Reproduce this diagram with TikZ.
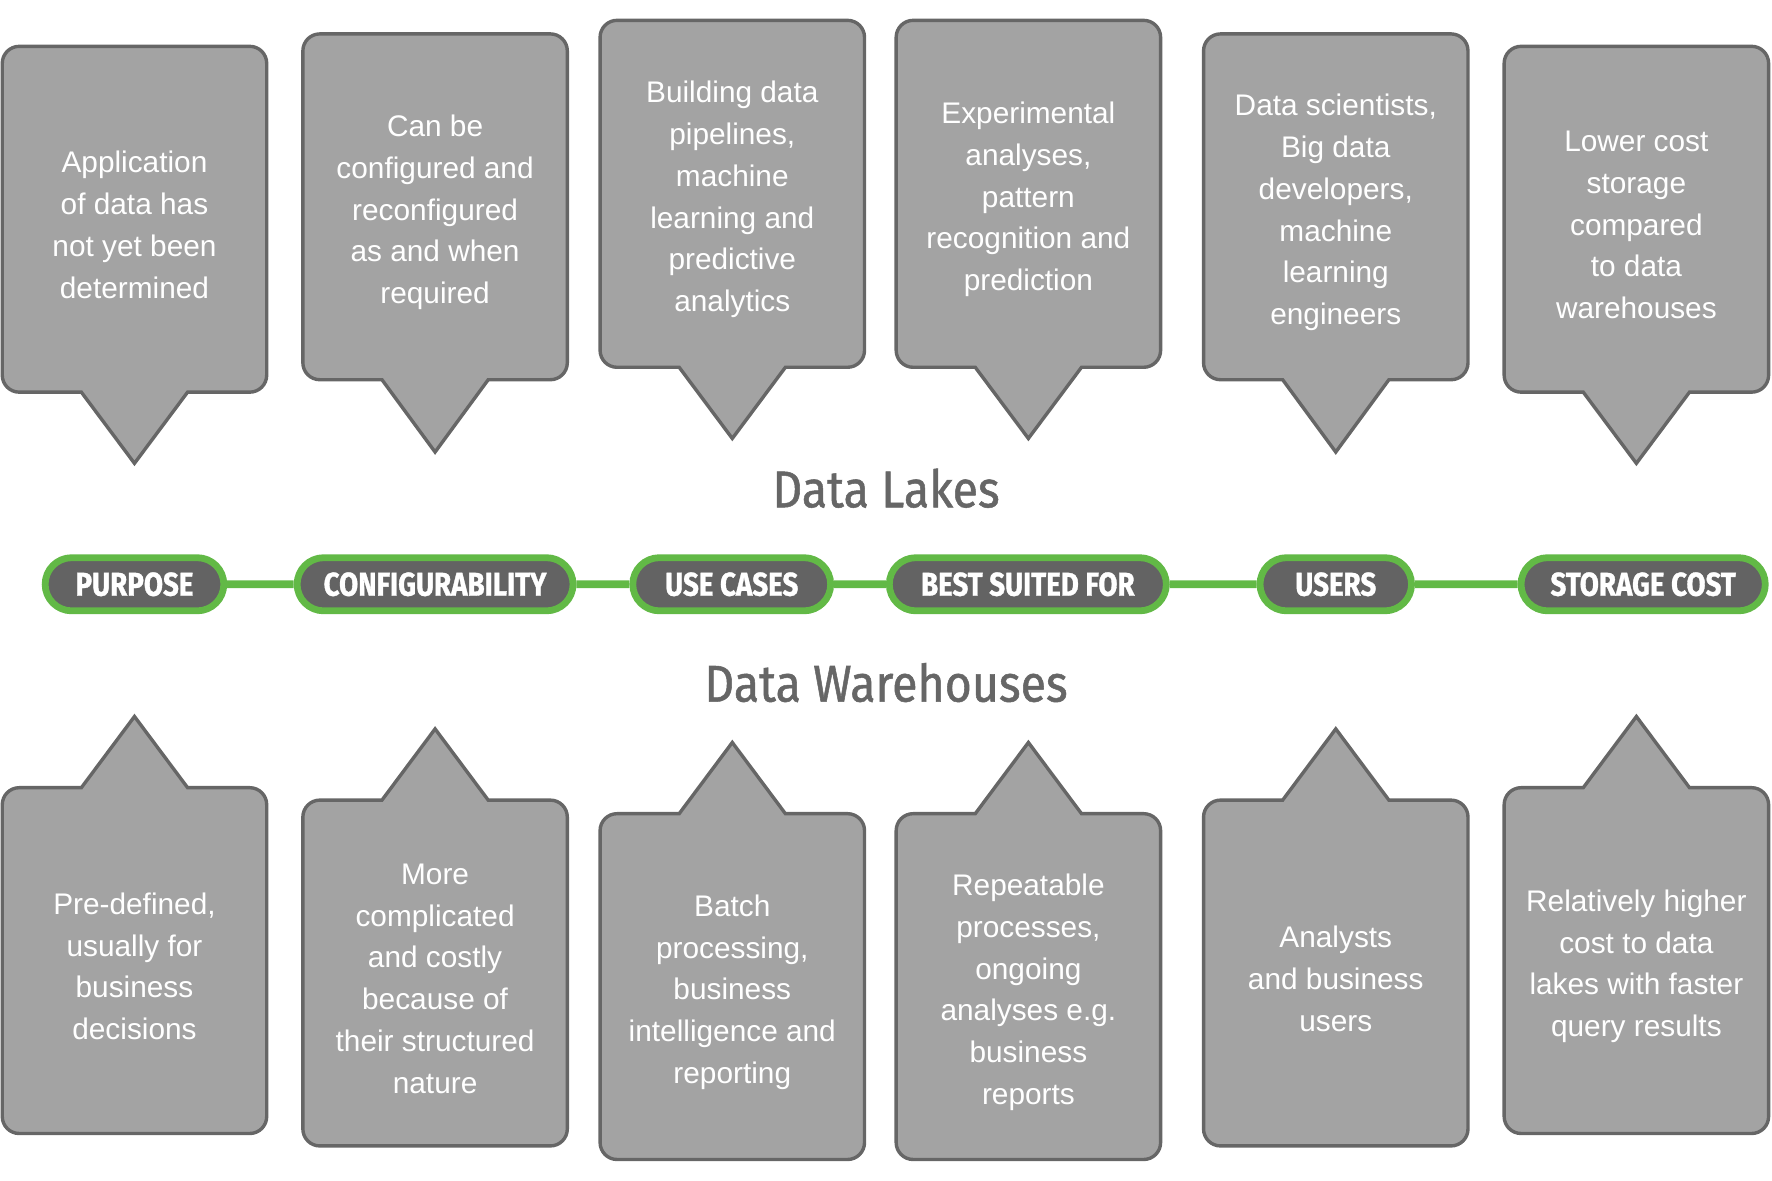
\documentclass[tikz,border=0pt]{standalone}
\usepackage{fontspec}
\setmainfont{Liberation Sans}
\newfontfamily\pillfont[FakeStretch=0.84,FakeBold=1]{Fira Sans}
\newfontfamily\titlefont[FakeStretch=0.9,FakeBold=1]{Fira Sans}
\usetikzlibrary{shapes.misc}

\definecolor{boxgray}{HTML}{A3A3A3}
\definecolor{edgegray}{HTML}{666666}
\definecolor{pillgray}{HTML}{636363}
\definecolor{pillgreen}{HTML}{62B946}

% name, x, far edge, edge with tip, tip, text
\newcommand{\bubble}[6]{%
  \draw[bubbleline] (#2,#3) [rounded corners=0.15cm] -- (#2+117,#3) -- (#2+117,#4)
    -- (#2+82,#4) [sharp corners] -- (#2+47,#4) -- (#2,#5) -- (#2-47,#4)
    -- (#2-82,#4) [rounded corners=0.15cm] -- (#2-117,#4) -- (#2-117,#3) -- cycle;
  \node[bubbletext] (#1) at (#2,{(#3+#4)/2+5}) {#6};}

\begin{document}
\begin{tikzpicture}[x=0.01cm, y=-0.01cm]
\tikzstyle{bubbleline}=[fill=boxgray, draw=edgegray, line width=0.03cm]
\tikzstyle{bubbletext}=[text=white, align=center, font=\fontsize{7.5}{10.5}\selectfont]
\tikzstyle{pill}=[rounded rectangle, fill=pillgray, draw=pillgreen, line width=0.06cm,
                  minimum height=0.47cm, inner xsep=0pt, text=white,
                  font=\pillfont\bfseries\fontsize{8.3}{10}\selectfont]
\tikzstyle{link}=[draw=pillgreen, line width=0.07cm]
\tikzstyle{title}=[text=edgegray, font=\titlefont\fontsize{13}{15}\selectfont]
\useasboundingbox (0,0) rectangle (1568,1045);

% data lakes
\bubble{lake1}{119}{41}{347}{410}{Application\\of data has\\not yet been\\determined}
\bubble{lake2}{385}{30}{336}{400}{Can be\\configured and\\reconfigured\\as and when\\required}
\bubble{lake3}{648}{18}{325}{388}{Building data\\pipelines,\\machine\\learning and\\predictive\\analytics}
\bubble{lake4}{910}{18}{325}{388}{Experimental\\analyses,\\pattern\\recognition and\\prediction}
\bubble{lake5}{1182}{30}{336}{400}{Data scientists,\\Big data\\developers,\\machine\\learning\\engineers}
\bubble{lake6}{1448}{41}{347}{410}{Lower cost\\storage\\compared\\to data\\warehouses}

% data warehouses
\bubble{ware1}{119}{1003}{697}{634}{Pre-defined,\\usually for\\business\\decisions}
\bubble{ware2}{385}{1014}{708}{645}{More\\complicated\\and costly\\because of\\their structured\\nature}
\bubble{ware3}{648}{1026}{720}{657}{Batch\\processing,\\business\\intelligence and\\reporting}
\bubble{ware4}{910}{1026}{720}{657}{Repeatable\\processes,\\ongoing\\analyses e.g.\\business\\reports}
\bubble{ware5}{1182}{1014}{708}{645}{Analysts\\and business\\users}
\bubble{ware6}{1448}{1003}{697}{634}{Relatively higher\\cost to data\\lakes with faster\\query results}

\node[title] (lakes) at (784,432) {Data Lakes};
\node[title] (houses) at (784,604) {Data Warehouses};

% the categories
\node[pill, minimum width=1.58cm] (purpose) at (119,517) {PURPOSE};
\node[pill, minimum width=2.44cm] (config) at (385,517) {CONFIGURABILITY};
\node[pill, minimum width=1.75cm] (cases) at (647.5,517) {USE CASES};
\node[pill, minimum width=2.45cm] (suited) at (909.5,517) {BEST SUITED FOR};
\node[pill, minimum width=1.34cm] (users) at (1182,517) {USERS};
\node[pill, minimum width=2.16cm] (storage) at (1454,517) {STORAGE COST};
\draw[link] (purpose)--(config) (config)--(cases) (cases)--(suited)
            (suited)--(users) (users)--(storage);
\end{tikzpicture}
\end{document}
